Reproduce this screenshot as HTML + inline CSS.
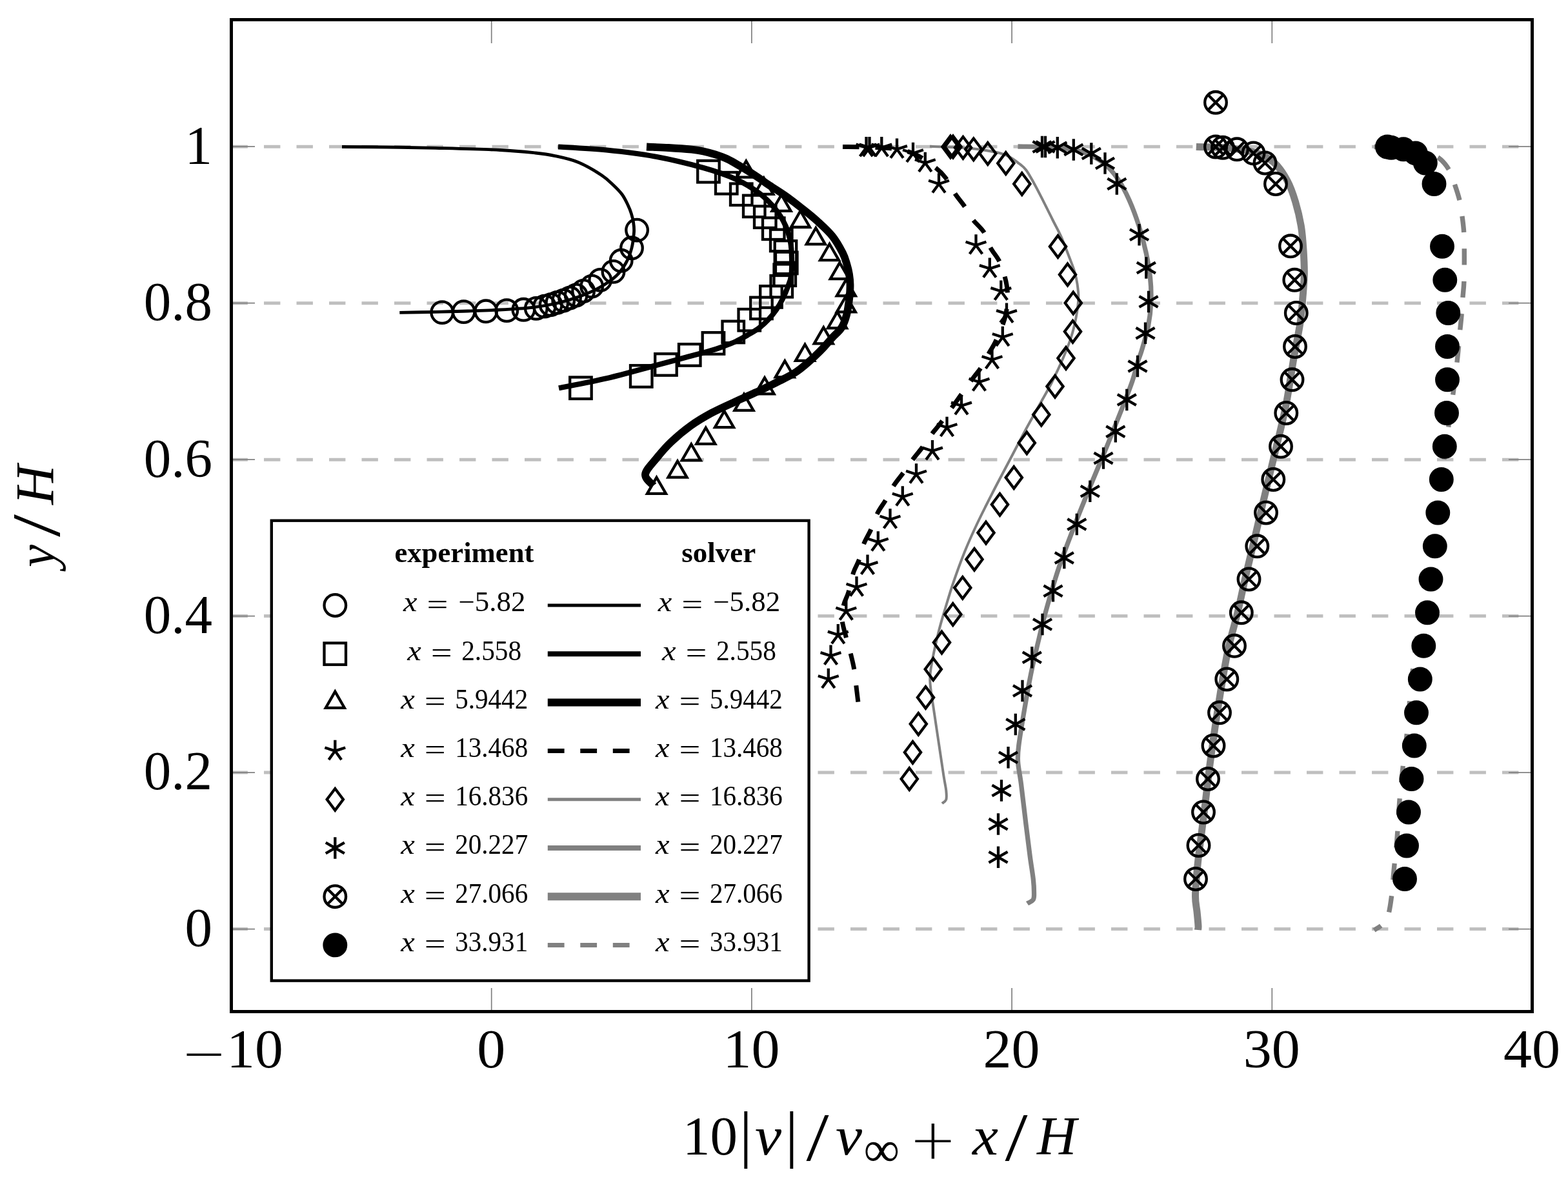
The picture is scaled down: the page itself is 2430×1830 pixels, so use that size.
<!DOCTYPE html>
<html lang="en"><head><meta charset="utf-8"><title>Velocity profiles</title>
<style>html,body{margin:0;padding:0;background:#fff}body{width:2430px;height:1830px;overflow:hidden}svg{display:block}text{font-family:"Liberation Serif",serif;fill:#000}.it{font-style:italic}.b{font-weight:bold}</style>
</head><body>
<svg width="2430" height="1830" viewBox="0 0 2430 1830">
<rect width="2430" height="1830" fill="#fff"/>
<defs>
<circle id="m1" r="16.8" fill="none" stroke="#000" stroke-width="4.3"/>
<rect id="m2" x="-16.8" y="-16.8" width="33.5" height="33.5" fill="none" stroke="#000" stroke-width="4.3"/>
<path id="m3" d="M0,-16.8 L14.5,8.4 L-14.5,8.4 Z" fill="none" stroke="#000" stroke-width="4.3" stroke-linejoin="miter"/>
<path id="m4" d="M0,0L0.00,-16.75M0,0L15.93,-5.18M0,0L9.85,13.55M0,0L-9.85,13.55M0,0L-15.93,-5.18" fill="none" stroke="#000" stroke-width="4.3"/>
<path id="m5" d="M0,-16.8 L12.6,0 L0,16.8 L-12.6,0 Z" fill="none" stroke="#000" stroke-width="4.3"/>
<path id="m6" d="M0,-16.8 L0,16.8M14.51,-8.38 L-14.51,8.38M-14.51,-8.38 L14.51,8.38" fill="none" stroke="#000" stroke-width="4.3"/>
<g id="m7"><circle r="16.8" fill="none" stroke="#000" stroke-width="4.3"/><path d="M-11.84,-11.84 L11.84,11.84 M-11.84,11.84 L11.84,-11.84" fill="none" stroke="#000" stroke-width="4.3"/></g>
<circle id="m8" r="16.8" fill="#000" stroke="#000" stroke-width="4.3"/>
</defs>
<g stroke="#bfbfbf" stroke-width="5" stroke-dasharray="25.4 25.1" fill="none">
<line x1="358.5" y1="1439.6" x2="2374.5" y2="1439.6"/>
<line x1="358.5" y1="1197.1" x2="2374.5" y2="1197.1"/>
<line x1="358.5" y1="954.6" x2="2374.5" y2="954.6"/>
<line x1="358.5" y1="712.2" x2="2374.5" y2="712.2"/>
<line x1="358.5" y1="469.7" x2="2374.5" y2="469.7"/>
<line x1="358.5" y1="227.2" x2="2374.5" y2="227.2"/>
</g>
<g stroke="#808080" stroke-width="1.7" fill="none">
<line x1="761.7" y1="1567.5" x2="761.7" y2="1531"/>
<line x1="761.7" y1="30.5" x2="761.7" y2="67"/>
<line x1="1164.9" y1="1567.5" x2="1164.9" y2="1531"/>
<line x1="1164.9" y1="30.5" x2="1164.9" y2="67"/>
<line x1="1568.1" y1="1567.5" x2="1568.1" y2="1531"/>
<line x1="1568.1" y1="30.5" x2="1568.1" y2="67"/>
<line x1="1971.3" y1="1567.5" x2="1971.3" y2="1531"/>
<line x1="1971.3" y1="30.5" x2="1971.3" y2="67"/>
<line x1="358.5" y1="1439.6" x2="395" y2="1439.6"/>
<line x1="2374.5" y1="1439.6" x2="2338" y2="1439.6"/>
<line x1="358.5" y1="1197.1" x2="395" y2="1197.1"/>
<line x1="2374.5" y1="1197.1" x2="2338" y2="1197.1"/>
<line x1="358.5" y1="954.6" x2="395" y2="954.6"/>
<line x1="2374.5" y1="954.6" x2="2338" y2="954.6"/>
<line x1="358.5" y1="712.2" x2="395" y2="712.2"/>
<line x1="2374.5" y1="712.2" x2="2338" y2="712.2"/>
<line x1="358.5" y1="469.7" x2="395" y2="469.7"/>
<line x1="2374.5" y1="469.7" x2="2338" y2="469.7"/>
<line x1="358.5" y1="227.2" x2="395" y2="227.2"/>
<line x1="2374.5" y1="227.2" x2="2338" y2="227.2"/>
</g>
<rect x="358.5" y="30.5" width="2016" height="1537" fill="none" stroke="#000" stroke-width="5"/>
<g fill="none" stroke-linejoin="round">
<path d="M530,227.5C541.7,227.6 575.8,227.7 600,228C624.2,228.3 645.8,228.6 675,229.3C704.2,230.1 749.2,231.2 775,232.5C800.8,233.8 815.8,235.5 830,237C844.2,238.5 849,239.2 860,241.6C871,244 884.2,246.5 896.2,251.5C908.2,256.5 923.3,265.5 932.3,271.4C941.3,277.3 945.1,281.8 950.4,286.8C955.7,291.8 960.2,296.2 964,301.3C967.8,306.4 970.6,312.5 973,317.5C975.4,322.5 977,326.6 978.4,331.1C979.8,335.6 980.9,339.9 981.6,344.7C982.3,349.5 983,353.3 982.5,360C982,366.7 980.9,377.1 978.8,385C976.7,392.9 974,400.4 970,407.5C966,414.6 961.7,421.2 955,427.5C948.3,433.8 939.2,439.8 930,445C920.8,450.2 911.2,454.6 900,458.8C888.8,463 875,467.1 862.5,470C850,472.9 839.6,474.6 825,476.3C810.4,478 791.7,479.1 775,480C758.3,480.9 741.7,481.4 725,482C708.3,482.6 692.6,482.9 675,483.3C657.4,483.7 628.6,484.1 619.3,484.3" stroke="#000" stroke-width="4.8"/>
<path d="M865,227.5C877.5,228.3 915,230 940,232.5C965,235 990,237.9 1015,242.5C1040,247.1 1069.2,254.2 1090,260C1110.8,265.8 1125.4,270.8 1140,277.5C1154.6,284.2 1167.1,292.1 1177.5,300C1187.9,307.9 1195.8,316.7 1202.5,325C1209.2,333.3 1213.8,341.7 1217.5,350C1221.2,358.3 1223.4,366.7 1225,375C1226.6,383.3 1226.8,391.3 1227,400C1227.2,408.7 1227.2,419.5 1226.2,427C1225.2,434.5 1223.1,438.7 1220.8,444.8C1218.5,450.9 1215.5,457.9 1212.6,463.8C1209.6,469.7 1206.7,474.8 1203.1,480C1199.5,485.2 1195.4,490.2 1190.9,495C1186.4,499.8 1181.4,504.4 1176,508.5C1170.6,512.6 1164.2,516 1158.3,519.4C1152.4,522.8 1147,526 1140.7,528.9C1134.4,531.8 1127.2,534.5 1120.4,537C1113.6,539.5 1110.1,540.9 1100,543.8C1089.9,546.7 1074.2,550.7 1060,554.5C1045.8,558.3 1035,561.2 1015,566.5C995,571.8 964.8,580.5 940,586.3C915.2,592.1 878.3,598.8 866,601.3" stroke="#000" stroke-width="8.2"/>
<path d="M1002,227.5C1007.7,227.8 1024.3,228.3 1036,229C1047.7,229.7 1063,230.8 1072,231.7C1081,232.6 1083.9,233.1 1090,234.4C1096.1,235.7 1102.4,237.4 1108.5,239.4C1114.6,241.4 1120.6,243.4 1126.6,246.2C1132.6,249 1138.7,252.6 1144.7,256.1C1150.7,259.6 1156.7,263.2 1162.7,267C1168.7,270.8 1176.4,276 1180.8,279C1185.2,282 1183.1,281.1 1189,285C1194.9,288.9 1207,296.2 1216,302.5C1225,308.8 1234.6,316.3 1243,323C1251.4,329.7 1258.7,335.3 1266.5,342.5C1274.3,349.7 1283.4,357.8 1290,366C1296.6,374.2 1302.2,384.7 1306,392C1309.8,399.3 1310.8,404.5 1312.5,410C1314.2,415.5 1315.2,419.8 1316,425C1316.8,430.2 1317.4,435.2 1317.5,441C1317.6,446.8 1317.4,452.2 1316.5,460C1315.6,467.8 1314.1,480 1312,488C1309.9,496 1307.7,502.2 1304,508C1300.3,513.8 1294.6,517.9 1290,523C1285.4,528.1 1280.9,533.6 1276.4,538.4C1271.9,543.2 1267.3,547.7 1262.8,552C1258.3,556.3 1253.8,560.4 1249.3,564.2C1244.8,568 1240.2,571.8 1235.7,575C1231.2,578.2 1226.6,580.7 1222.1,583.2C1217.6,585.7 1213,587.8 1208.5,590C1204,592.2 1199.5,594.5 1195,596.7C1190.5,599 1185.9,601.4 1181.4,603.5C1176.9,605.6 1172.3,607.6 1167.8,609.6C1163.3,611.6 1158.8,613.7 1154.3,615.7C1149.8,617.7 1149.3,617.8 1140.7,621.8C1132.1,625.8 1114.3,633.6 1102.5,640C1090.7,646.4 1080.4,652.5 1070,660C1059.6,667.5 1048.8,676.7 1040,685C1031.2,693.3 1024.2,701.7 1017.5,710C1010.8,718.3 1000.8,727.9 1000,735C999.2,742.1 1010.4,749.6 1012.5,752.5" stroke="#000" stroke-width="11.8"/>
<path d="M1306,227.5C1312.5,227.6 1331,227.4 1345,228C1359,228.6 1377.5,229 1390,231C1402.5,233 1410,235.2 1420,240C1430,244.8 1442.5,254.2 1450,260C1457.5,265.8 1460,268.3 1465,275C1470,281.7 1475,292.5 1480,300C1485,307.5 1490.4,313.3 1495,320C1499.6,326.7 1502.5,333.3 1507.5,340C1512.5,346.7 1520.4,352.7 1525,360C1529.6,367.3 1531,376.3 1535,383.8C1539,391.3 1545,397.3 1548.8,405C1552.5,412.7 1555.4,422.1 1557.5,430C1559.6,437.9 1560.9,444.2 1561.3,452.5C1561.7,460.8 1561,472.1 1560,480C1559,487.9 1557.9,491.7 1555,500C1552.1,508.3 1546.2,522.1 1542.5,530C1538.8,537.9 1536.2,540.8 1532.5,547.5C1528.8,554.2 1524.6,562.9 1520,570C1515.4,577.1 1515,576.2 1505,590C1495,603.8 1470,639 1460,652.5C1450,666 1450,664.6 1445,671.3C1440,678 1435,685.8 1430,692.5C1425,699.2 1420,704.6 1415,711.3C1410,718 1405,725.6 1400,732.5C1395,739.4 1389.6,745.4 1385,752.5C1380.4,759.6 1376.7,767.9 1372.5,775C1368.3,782.1 1363.8,787.5 1360,795C1356.2,802.5 1353.5,812.1 1350,820C1346.5,827.9 1341.9,834.6 1338.8,842.5C1335.7,850.4 1334,860 1331.3,867.5C1328.6,875 1325.2,879.2 1322.5,887.5C1319.8,895.8 1317.5,909.2 1315,917.5C1312.5,925.8 1309.2,930.4 1307.5,937.5C1305.8,944.6 1304.4,951.7 1305,960C1305.6,968.3 1309,978.3 1311.3,987.5C1313.6,996.7 1316.7,1006.7 1318.8,1015C1320.9,1023.3 1322.4,1029.3 1323.8,1037.5C1325.2,1045.7 1326,1055.4 1327,1064C1328,1072.6 1329.5,1084.8 1330,1089" stroke="#000" stroke-width="7.0" stroke-dasharray="25.4 25.1" stroke-dashoffset="0"/>
<path d="M1441,226.8C1451.7,227.3 1486,228 1505,230C1524,232 1542.8,235.1 1555,238.8C1567.2,242.6 1572.2,248.4 1578,252.5C1583.8,256.6 1585.8,257.8 1590,263.2C1594.2,268.6 1598.5,276.9 1603,285C1607.5,293.1 1612.4,302.9 1617.1,312.1C1621.8,321.3 1626.5,330.9 1631,340C1635.5,349.1 1639.8,356.3 1644.3,366.4C1648.8,376.4 1654.3,391.4 1657.8,400.3C1661.2,409.2 1663,413.4 1665,420C1667,426.6 1668.5,432.9 1669.5,440C1670.5,447.1 1671.6,453.8 1671.3,462.5C1671,471.2 1669.4,482.5 1667.5,492.5C1665.6,502.5 1663.3,512.1 1660,522.5C1656.7,532.9 1652.5,543.3 1647.5,555C1642.5,566.7 1635.4,581.7 1630,592.5C1624.6,603.3 1621.7,607.9 1615,620C1608.3,632.1 1598.3,649.6 1590,665C1581.7,680.4 1573.3,696.7 1565,712.5C1556.7,728.3 1548.3,743.8 1540,760C1531.7,776.2 1522.5,794.2 1515,810C1507.5,825.8 1501.2,839.6 1495,855C1488.8,870.4 1482.5,887.9 1477.5,902.5C1472.5,917.1 1468.8,930 1465,942.5C1461.2,955 1458.3,964.2 1455,977.5C1451.7,990.8 1447.3,1009.6 1445,1022.5C1442.7,1035.4 1440.9,1041.7 1441.3,1055C1441.7,1068.3 1445.2,1086.2 1447.5,1102.5C1449.8,1118.8 1452.5,1135.8 1455,1152.5C1457.5,1169.2 1460.6,1190.4 1462.5,1202.5C1464.4,1214.6 1465.7,1219 1466.3,1225C1466.9,1231 1467.3,1235.5 1466.3,1238.8C1465.2,1242.1 1461,1244 1460,1245" stroke="#808080" stroke-width="4.0"/>
<path d="M1577.5,227C1588.3,227.3 1625.4,227.2 1642.5,228.8C1659.6,230.4 1668.8,232.4 1680,236.3C1691.2,240.2 1701.2,245.6 1710,252.5C1718.8,259.4 1725.8,267.9 1732.5,277.5C1739.2,287.1 1744.6,297.9 1750,310C1755.4,322.1 1760.6,336.2 1765,350C1769.4,363.8 1773.4,379.2 1776.3,392.5C1779.2,405.8 1781.2,417.5 1782.5,430C1783.8,442.5 1784.3,455 1783.8,467.5C1783.3,480 1781.9,492.5 1779.5,505C1777.1,517.5 1772.2,533.3 1769.5,542.5C1766.8,551.7 1765.9,552.1 1763.5,560C1761.1,567.9 1758.9,578.3 1755,590C1751.1,601.7 1746.7,612.9 1740,630C1733.3,647.1 1723.3,672.1 1715,692.5C1706.7,712.9 1698.3,732.1 1690,752.5C1681.7,772.9 1673.3,793.3 1665,815C1656.7,836.7 1647.5,860 1640,882.5C1632.5,905 1625,932.1 1620,950C1615,967.9 1613.8,974.2 1610,990C1606.2,1005.8 1601.2,1026.7 1597.5,1045C1593.8,1063.3 1590.6,1081.7 1587.5,1100C1584.4,1118.3 1580.5,1141.7 1578.8,1155C1577.1,1168.3 1576.9,1170 1577.5,1180C1578.1,1190 1580.4,1198.8 1582.5,1215C1584.6,1231.2 1587.7,1258.8 1590,1277.5C1592.3,1296.2 1594.4,1313.3 1596.3,1327.5C1598.2,1341.7 1600.3,1353.3 1601.3,1362.5C1602.3,1371.7 1602.5,1377.3 1602.5,1382.5C1602.5,1387.7 1603,1390.9 1601.3,1393.8C1599.5,1396.7 1593.5,1399 1592,1400" stroke="#808080" stroke-width="7.3"/>
<path d="M1853.8,227.5C1861.5,227.8 1884.8,227.5 1900,229C1915.2,230.5 1932.5,232.4 1945,236.3C1957.5,240.2 1966.7,245.2 1975,252.5C1983.3,259.8 1989.6,270 1995,280C2000.4,290 2004,300.8 2007.5,312.5C2011,324.2 2014.2,337.5 2016.3,350C2018.4,362.5 2019.2,375 2020,387.5C2020.8,400 2021.5,412.5 2021.3,425C2021.1,437.5 2019.8,450 2018.8,462.5C2017.8,475 2017.3,484.6 2015,500C2012.7,515.4 2008.8,533.3 2005,555C2001.2,576.7 1997.5,605 1992.5,630C1987.5,655 1980.4,682.1 1975,705C1969.6,727.9 1965.4,744.6 1960,767.5C1954.6,790.4 1947.5,821.2 1942.5,842.5C1937.5,863.8 1934.1,877.2 1930,895C1925.9,912.8 1922.6,929.8 1918,949C1913.4,968.2 1907.6,985.2 1902.5,1010C1897.4,1034.8 1892.1,1068.3 1887.5,1097.5C1882.9,1126.7 1878.3,1160 1875,1185C1871.7,1210 1869.6,1230.4 1867.5,1247.5C1865.4,1264.6 1864.4,1272.5 1862.5,1287.5C1860.6,1302.5 1858,1320.8 1856.3,1337.5C1854.6,1354.2 1852.7,1375 1852.5,1387.5C1852.3,1400 1854.2,1404.6 1855,1412.5C1855.8,1420.4 1856.8,1430.2 1857,1435C1857.2,1439.8 1856.4,1440 1856.3,1441" stroke="#808080" stroke-width="11.0"/>
<path d="M2129.6,227.5C2136.3,227.8 2157.4,227.8 2170,229C2182.6,230.2 2195,232.3 2205,235C2215,237.7 2223.2,240.2 2230,245C2236.8,249.8 2241.8,256.7 2246,263.8C2250.2,270.9 2252.2,279.4 2255,287.5C2257.8,295.6 2260.6,304.2 2262.5,312.5C2264.4,320.8 2265.2,329.2 2266.3,337.5C2267.4,345.8 2268.3,352.1 2268.8,362.5C2269.3,372.9 2269.3,387.5 2269.3,400C2269.3,412.5 2269.2,427.1 2268.8,437.5C2268.4,447.9 2267.4,453.9 2266.8,462.5C2266.2,471.1 2265.7,480.2 2265,488.8C2264.3,497.4 2263.5,503.3 2262.5,513.8C2261.5,524.3 2260.6,537.3 2259,552C2257.4,566.7 2255.2,585.3 2253,602C2250.8,618.7 2248.3,635 2246,652C2243.7,669 2241.5,686.8 2239,704C2236.5,721.2 2233.7,737.3 2231,755C2228.3,772.7 2225.7,792.5 2223,810C2220.3,827.5 2217.7,843.3 2215,860C2212.3,876.7 2209.5,893.3 2207,910C2204.5,926.7 2202.3,943.3 2200,960C2197.7,976.7 2195.2,993.3 2193,1010C2190.8,1026.7 2189.2,1038.3 2187,1060C2184.8,1081.7 2182.2,1118.3 2180,1140C2177.8,1161.7 2175.8,1173.3 2174,1190C2172.2,1206.7 2170.5,1221.7 2169,1240C2167.5,1258.3 2166.5,1281.7 2165,1300C2163.5,1318.3 2161.3,1335.8 2160,1350C2158.7,1364.2 2158.3,1374 2157,1385C2155.7,1396 2153.8,1408.8 2152,1416C2150.2,1423.2 2148.1,1424.8 2146,1428C2143.9,1431.2 2142.2,1432.8 2139.5,1435C2136.8,1437.2 2131.2,1440.2 2129.5,1441.3" stroke="#808080" stroke-width="7.4" stroke-dasharray="25.4 25.1" stroke-dashoffset="0"/>
</g>
<g>
<use href="#m1" x="987.1" y="356.6"/>
<use href="#m1" x="979" y="384.3"/>
<use href="#m1" x="962.7" y="403.8"/>
<use href="#m1" x="950.5" y="420.9"/>
<use href="#m1" x="930.2" y="433.9"/>
<use href="#m1" x="917.2" y="443.7"/>
<use href="#m1" x="904.1" y="451"/>
<use href="#m1" x="892.7" y="457.5"/>
<use href="#m1" x="883" y="461.6"/>
<use href="#m1" x="873.2" y="465.7"/>
<use href="#m1" x="863.4" y="468.9"/>
<use href="#m1" x="853.7" y="472.2"/>
<use href="#m1" x="843.9" y="474.6"/>
<use href="#m1" x="830.9" y="477.9"/>
<use href="#m1" x="811.4" y="479.8"/>
<use href="#m1" x="785.3" y="481.1"/>
<use href="#m1" x="753.1" y="482.3"/>
<use href="#m1" x="718.6" y="483.1"/>
<use href="#m1" x="685.2" y="484.1"/>
</g>
<g>
<use href="#m2" x="1098" y="265.8"/>
<use href="#m2" x="1125.8" y="283.8"/>
<use href="#m2" x="1148.8" y="301.3"/>
<use href="#m2" x="1168.8" y="319.5"/>
<use href="#m2" x="1185.8" y="336.3"/>
<use href="#m2" x="1198.8" y="354.3"/>
<use href="#m2" x="1210.8" y="372.5"/>
<use href="#m2" x="1217.5" y="390"/>
<use href="#m2" x="1218.8" y="407.5"/>
<use href="#m2" x="1216.3" y="426.3"/>
<use href="#m2" x="1211.3" y="443.8"/>
<use href="#m2" x="1195" y="460"/>
<use href="#m2" x="1180" y="477.5"/>
<use href="#m2" x="1161.3" y="495.8"/>
<use href="#m2" x="1136.3" y="514.5"/>
<use href="#m2" x="1105.5" y="532"/>
<use href="#m2" x="1068.8" y="550"/>
<use href="#m2" x="1032" y="565"/>
<use href="#m2" x="993.8" y="583"/>
<use href="#m2" x="900" y="601.3"/>
</g>
<g>
<use href="#m3" x="1156.3" y="266.3"/>
<use href="#m3" x="1183.8" y="292.5"/>
<use href="#m3" x="1211" y="318.5"/>
<use href="#m3" x="1240.5" y="343.6"/>
<use href="#m3" x="1264.3" y="370"/>
<use href="#m3" x="1285.5" y="394.8"/>
<use href="#m3" x="1301.3" y="423.8"/>
<use href="#m3" x="1311.3" y="450"/>
<use href="#m3" x="1311.3" y="475"/>
<use href="#m3" x="1297.5" y="500"/>
<use href="#m3" x="1276.3" y="524"/>
<use href="#m3" x="1247.5" y="550.5"/>
<use href="#m3" x="1216.3" y="576"/>
<use href="#m3" x="1185" y="602"/>
<use href="#m3" x="1153" y="627.5"/>
<use href="#m3" x="1122.5" y="653.8"/>
<use href="#m3" x="1093.8" y="679.5"/>
<use href="#m3" x="1071.3" y="705"/>
<use href="#m3" x="1050" y="731.3"/>
<use href="#m3" x="1017.5" y="756.5"/>
</g>
<g>
<use href="#m4" x="1342.5" y="228.8"/>
<use href="#m4" x="1347.5" y="228.8"/>
<use href="#m4" x="1366.3" y="228.8"/>
<use href="#m4" x="1390" y="231.3"/>
<use href="#m4" x="1415" y="237.5"/>
<use href="#m4" x="1433.8" y="252.5"/>
<use href="#m4" x="1455" y="285"/>
<use href="#m4" x="1512.5" y="380"/>
<use href="#m4" x="1533.8" y="416.3"/>
<use href="#m4" x="1551.3" y="451.3"/>
<use href="#m4" x="1560" y="486.3"/>
<use href="#m4" x="1553.8" y="522.5"/>
<use href="#m4" x="1537.5" y="557.5"/>
<use href="#m4" x="1517.5" y="592"/>
<use href="#m4" x="1490" y="628.8"/>
<use href="#m4" x="1467.5" y="662.5"/>
<use href="#m4" x="1445" y="698.8"/>
<use href="#m4" x="1420" y="735"/>
<use href="#m4" x="1398.8" y="770"/>
<use href="#m4" x="1379.5" y="805"/>
<use href="#m4" x="1360.8" y="840"/>
<use href="#m4" x="1344.5" y="876.3"/>
<use href="#m4" x="1327.5" y="910"/>
<use href="#m4" x="1311.3" y="947"/>
<use href="#m4" x="1298.8" y="983.8"/>
<use href="#m4" x="1287.5" y="1016.3"/>
<use href="#m4" x="1283.8" y="1052.5"/>
</g>
<g>
<use href="#m5" x="1473" y="227.5"/>
<use href="#m5" x="1477" y="227.5"/>
<use href="#m5" x="1492.5" y="228.8"/>
<use href="#m5" x="1508.8" y="231.3"/>
<use href="#m5" x="1530.8" y="238"/>
<use href="#m5" x="1558.8" y="253"/>
<use href="#m5" x="1583.8" y="285"/>
<use href="#m5" x="1639.5" y="382"/>
<use href="#m5" x="1654.5" y="425.5"/>
<use href="#m5" x="1663.3" y="469.5"/>
<use href="#m5" x="1662.5" y="513.8"/>
<use href="#m5" x="1652" y="555"/>
<use href="#m5" x="1635" y="598.8"/>
<use href="#m5" x="1613.8" y="642.5"/>
<use href="#m5" x="1591.3" y="686.3"/>
<use href="#m5" x="1571.3" y="740"/>
<use href="#m5" x="1549.5" y="781.8"/>
<use href="#m5" x="1528" y="825.5"/>
<use href="#m5" x="1510" y="866.8"/>
<use href="#m5" x="1491.8" y="910.8"/>
<use href="#m5" x="1476.8" y="952"/>
<use href="#m5" x="1459.5" y="995.5"/>
<use href="#m5" x="1446.3" y="1037"/>
<use href="#m5" x="1434.5" y="1080.8"/>
<use href="#m5" x="1423.3" y="1121.8"/>
<use href="#m5" x="1414.5" y="1165.8"/>
<use href="#m5" x="1409.3" y="1207"/>
</g>
<g>
<use href="#m6" x="1615" y="227.5"/>
<use href="#m6" x="1620" y="227.5"/>
<use href="#m6" x="1638.8" y="228.8"/>
<use href="#m6" x="1663.8" y="232"/>
<use href="#m6" x="1691.3" y="238"/>
<use href="#m6" x="1712.5" y="253"/>
<use href="#m6" x="1730.8" y="285"/>
<use href="#m6" x="1765.5" y="363.8"/>
<use href="#m6" x="1776.3" y="415"/>
<use href="#m6" x="1780" y="467.5"/>
<use href="#m6" x="1775" y="516.3"/>
<use href="#m6" x="1763" y="567.5"/>
<use href="#m6" x="1746.3" y="619.5"/>
<use href="#m6" x="1728.8" y="668.8"/>
<use href="#m6" x="1710" y="710"/>
<use href="#m6" x="1689.3" y="761.3"/>
<use href="#m6" x="1668.8" y="812.5"/>
<use href="#m6" x="1649.3" y="864.5"/>
<use href="#m6" x="1632" y="915.8"/>
<use href="#m6" x="1615.5" y="967.5"/>
<use href="#m6" x="1599.3" y="1018.8"/>
<use href="#m6" x="1584.5" y="1070.5"/>
<use href="#m6" x="1573.8" y="1122.5"/>
<use href="#m6" x="1562.5" y="1173.8"/>
<use href="#m6" x="1552" y="1225"/>
<use href="#m6" x="1547" y="1277"/>
<use href="#m6" x="1547" y="1328.3"/>
</g>
<g>
<use href="#m7" x="1884" y="158.8"/>
<use href="#m7" x="1884" y="227.5"/>
<use href="#m7" x="1895" y="228.8"/>
<use href="#m7" x="1917" y="231.3"/>
<use href="#m7" x="1942.5" y="237.5"/>
<use href="#m7" x="1960.5" y="252.5"/>
<use href="#m7" x="1977" y="285"/>
<use href="#m7" x="2000" y="381.3"/>
<use href="#m7" x="2006.3" y="433.8"/>
<use href="#m7" x="2008.8" y="485"/>
<use href="#m7" x="2007" y="537"/>
<use href="#m7" x="2002.5" y="588.3"/>
<use href="#m7" x="1993.3" y="640"/>
<use href="#m7" x="1985" y="691.8"/>
<use href="#m7" x="1973.3" y="743"/>
<use href="#m7" x="1962" y="794.5"/>
<use href="#m7" x="1948.3" y="846.3"/>
<use href="#m7" x="1935.5" y="897.5"/>
<use href="#m7" x="1923.8" y="949.3"/>
<use href="#m7" x="1913" y="1000.8"/>
<use href="#m7" x="1901.3" y="1052.5"/>
<use href="#m7" x="1890" y="1104.3"/>
<use href="#m7" x="1880.5" y="1155.5"/>
<use href="#m7" x="1872" y="1207"/>
<use href="#m7" x="1865" y="1258.5"/>
<use href="#m7" x="1857.5" y="1310"/>
<use href="#m7" x="1853" y="1362"/>
</g>
<g>
<use href="#m8" x="2150" y="227.5"/>
<use href="#m8" x="2156" y="228.8"/>
<use href="#m8" x="2175" y="231.3"/>
<use href="#m8" x="2193.8" y="237.5"/>
<use href="#m8" x="2208.8" y="252.5"/>
<use href="#m8" x="2222.5" y="285"/>
<use href="#m8" x="2235" y="381.8"/>
<use href="#m8" x="2239.3" y="433.8"/>
<use href="#m8" x="2244.3" y="485"/>
<use href="#m8" x="2243" y="537"/>
<use href="#m8" x="2243" y="588.3"/>
<use href="#m8" x="2242" y="640"/>
<use href="#m8" x="2238.8" y="691.8"/>
<use href="#m8" x="2233.8" y="743"/>
<use href="#m8" x="2228.3" y="794.5"/>
<use href="#m8" x="2223.8" y="846.3"/>
<use href="#m8" x="2217.5" y="897.5"/>
<use href="#m8" x="2212" y="949.3"/>
<use href="#m8" x="2206.3" y="1000.8"/>
<use href="#m8" x="2200.8" y="1052.5"/>
<use href="#m8" x="2195" y="1104.3"/>
<use href="#m8" x="2191.8" y="1155.5"/>
<use href="#m8" x="2187.5" y="1207"/>
<use href="#m8" x="2183" y="1258.5"/>
<use href="#m8" x="2180" y="1310.5"/>
<use href="#m8" x="2177" y="1362"/>
</g>
<rect x="420.8" y="806.7" width="832.8" height="712.9" fill="#fff" stroke="#000" stroke-width="4.4"/>
<text class="b" x="719.4" y="870.5" font-size="44" text-anchor="middle" textLength="216" lengthAdjust="spacingAndGlyphs">experiment</text>
<text class="b" x="1113.7" y="870.5" font-size="44" text-anchor="middle" textLength="115" lengthAdjust="spacingAndGlyphs">solver</text>
<use href="#m1" x="519.3" y="938"/>
<line x1="848.8" y1="938" x2="993" y2="938" stroke="#000" stroke-width="5.1"/>
<text x="625" y="947.3" font-size="43.5"><tspan class="it" x="625" textLength="21.5" lengthAdjust="spacingAndGlyphs">x</tspan><tspan x="661.5" dy="3.2" textLength="33" lengthAdjust="spacingAndGlyphs">=</tspan><tspan x="710.5" dy="-3.2" textLength="104" lengthAdjust="spacingAndGlyphs">−5.82</tspan></text>
<text x="1019.7" y="947.3" font-size="43.5"><tspan class="it" x="1019.7" textLength="21.5" lengthAdjust="spacingAndGlyphs">x</tspan><tspan x="1056.2" dy="3.2" textLength="33" lengthAdjust="spacingAndGlyphs">=</tspan><tspan x="1105.2" dy="-3.2" textLength="104" lengthAdjust="spacingAndGlyphs">−5.82</tspan></text>
<use href="#m2" x="519.3" y="1013.2"/>
<line x1="848.8" y1="1013.2" x2="993" y2="1013.2" stroke="#000" stroke-width="8.1"/>
<text x="631.2" y="1022.5" font-size="43.5"><tspan class="it" x="631.2" textLength="21.5" lengthAdjust="spacingAndGlyphs">x</tspan><tspan x="667.7" dy="3.2" textLength="33" lengthAdjust="spacingAndGlyphs">=</tspan><tspan x="715.2" dy="-3.2" textLength="93" lengthAdjust="spacingAndGlyphs">2.558</tspan></text>
<text x="1025.9" y="1022.5" font-size="43.5"><tspan class="it" x="1025.9" textLength="21.5" lengthAdjust="spacingAndGlyphs">x</tspan><tspan x="1062.4" dy="3.2" textLength="33" lengthAdjust="spacingAndGlyphs">=</tspan><tspan x="1109.9" dy="-3.2" textLength="93" lengthAdjust="spacingAndGlyphs">2.558</tspan></text>
<use href="#m3" x="519.3" y="1088.4"/>
<line x1="848.8" y1="1088.4" x2="993" y2="1088.4" stroke="#000" stroke-width="12"/>
<text x="621.2" y="1097.7" font-size="43.5"><tspan class="it" x="621.2" textLength="21.5" lengthAdjust="spacingAndGlyphs">x</tspan><tspan x="657.7" dy="3.2" textLength="33" lengthAdjust="spacingAndGlyphs">=</tspan><tspan x="705.2" dy="-3.2" textLength="113" lengthAdjust="spacingAndGlyphs">5.9442</tspan></text>
<text x="1015.9" y="1097.7" font-size="43.5"><tspan class="it" x="1015.9" textLength="21.5" lengthAdjust="spacingAndGlyphs">x</tspan><tspan x="1052.4" dy="3.2" textLength="33" lengthAdjust="spacingAndGlyphs">=</tspan><tspan x="1099.9" dy="-3.2" textLength="113" lengthAdjust="spacingAndGlyphs">5.9442</tspan></text>
<use href="#m4" x="519.3" y="1163.6"/>
<line x1="848.8" y1="1163.6" x2="993" y2="1163.6" stroke="#000" stroke-width="7" stroke-dasharray="25.8 24.7"/>
<text x="621.2" y="1172.9" font-size="43.5"><tspan class="it" x="621.2" textLength="21.5" lengthAdjust="spacingAndGlyphs">x</tspan><tspan x="657.7" dy="3.2" textLength="33" lengthAdjust="spacingAndGlyphs">=</tspan><tspan x="705.2" dy="-3.2" textLength="113" lengthAdjust="spacingAndGlyphs">13.468</tspan></text>
<text x="1015.9" y="1172.9" font-size="43.5"><tspan class="it" x="1015.9" textLength="21.5" lengthAdjust="spacingAndGlyphs">x</tspan><tspan x="1052.4" dy="3.2" textLength="33" lengthAdjust="spacingAndGlyphs">=</tspan><tspan x="1099.9" dy="-3.2" textLength="113" lengthAdjust="spacingAndGlyphs">13.468</tspan></text>
<use href="#m5" x="519.3" y="1238.8"/>
<line x1="848.8" y1="1238.8" x2="993" y2="1238.8" stroke="#808080" stroke-width="5.1"/>
<text x="621.2" y="1248.1" font-size="43.5"><tspan class="it" x="621.2" textLength="21.5" lengthAdjust="spacingAndGlyphs">x</tspan><tspan x="657.7" dy="3.2" textLength="33" lengthAdjust="spacingAndGlyphs">=</tspan><tspan x="705.2" dy="-3.2" textLength="113" lengthAdjust="spacingAndGlyphs">16.836</tspan></text>
<text x="1015.9" y="1248.1" font-size="43.5"><tspan class="it" x="1015.9" textLength="21.5" lengthAdjust="spacingAndGlyphs">x</tspan><tspan x="1052.4" dy="3.2" textLength="33" lengthAdjust="spacingAndGlyphs">=</tspan><tspan x="1099.9" dy="-3.2" textLength="113" lengthAdjust="spacingAndGlyphs">16.836</tspan></text>
<use href="#m6" x="519.3" y="1314"/>
<line x1="848.8" y1="1314" x2="993" y2="1314" stroke="#808080" stroke-width="8.1"/>
<text x="621.2" y="1323.3" font-size="43.5"><tspan class="it" x="621.2" textLength="21.5" lengthAdjust="spacingAndGlyphs">x</tspan><tspan x="657.7" dy="3.2" textLength="33" lengthAdjust="spacingAndGlyphs">=</tspan><tspan x="705.2" dy="-3.2" textLength="113" lengthAdjust="spacingAndGlyphs">20.227</tspan></text>
<text x="1015.9" y="1323.3" font-size="43.5"><tspan class="it" x="1015.9" textLength="21.5" lengthAdjust="spacingAndGlyphs">x</tspan><tspan x="1052.4" dy="3.2" textLength="33" lengthAdjust="spacingAndGlyphs">=</tspan><tspan x="1099.9" dy="-3.2" textLength="113" lengthAdjust="spacingAndGlyphs">20.227</tspan></text>
<use href="#m7" x="519.3" y="1389.2"/>
<line x1="848.8" y1="1389.2" x2="993" y2="1389.2" stroke="#808080" stroke-width="12"/>
<text x="621.2" y="1398.5" font-size="43.5"><tspan class="it" x="621.2" textLength="21.5" lengthAdjust="spacingAndGlyphs">x</tspan><tspan x="657.7" dy="3.2" textLength="33" lengthAdjust="spacingAndGlyphs">=</tspan><tspan x="705.2" dy="-3.2" textLength="113" lengthAdjust="spacingAndGlyphs">27.066</tspan></text>
<text x="1015.9" y="1398.5" font-size="43.5"><tspan class="it" x="1015.9" textLength="21.5" lengthAdjust="spacingAndGlyphs">x</tspan><tspan x="1052.4" dy="3.2" textLength="33" lengthAdjust="spacingAndGlyphs">=</tspan><tspan x="1099.9" dy="-3.2" textLength="113" lengthAdjust="spacingAndGlyphs">27.066</tspan></text>
<use href="#m8" x="519.3" y="1464.4"/>
<line x1="848.8" y1="1464.4" x2="993" y2="1464.4" stroke="#808080" stroke-width="7" stroke-dasharray="25.8 24.7"/>
<text x="621.2" y="1473.7" font-size="43.5"><tspan class="it" x="621.2" textLength="21.5" lengthAdjust="spacingAndGlyphs">x</tspan><tspan x="657.7" dy="3.2" textLength="33" lengthAdjust="spacingAndGlyphs">=</tspan><tspan x="705.2" dy="-3.2" textLength="113" lengthAdjust="spacingAndGlyphs">33.931</tspan></text>
<text x="1015.9" y="1473.7" font-size="43.5"><tspan class="it" x="1015.9" textLength="21.5" lengthAdjust="spacingAndGlyphs">x</tspan><tspan x="1052.4" dy="3.2" textLength="33" lengthAdjust="spacingAndGlyphs">=</tspan><tspan x="1099.9" dy="-3.2" textLength="113" lengthAdjust="spacingAndGlyphs">33.931</tspan></text>
<text x="280.6" y="1660.6" font-size="85" style="font-family:'DejaVu Sans',sans-serif;font-weight:200">−</text>
<text x="395" y="1654.3" font-size="85" text-anchor="middle" textLength="87.5" lengthAdjust="spacingAndGlyphs">10</text>
<text x="761.2" y="1654.3" font-size="85" text-anchor="middle" textLength="44" lengthAdjust="spacingAndGlyphs">0</text>
<text x="1164.4" y="1654.3" font-size="85" text-anchor="middle" textLength="88" lengthAdjust="spacingAndGlyphs">10</text>
<text x="1567.6" y="1654.3" font-size="85" text-anchor="middle" textLength="88" lengthAdjust="spacingAndGlyphs">20</text>
<text x="1970.8" y="1654.3" font-size="85" text-anchor="middle" textLength="88" lengthAdjust="spacingAndGlyphs">30</text>
<text x="2374" y="1654.3" font-size="85" text-anchor="middle" textLength="88" lengthAdjust="spacingAndGlyphs">40</text>
<text x="329" y="1465.9" font-size="85" text-anchor="end">0</text>
<text x="329" y="1223.4" font-size="85" text-anchor="end">0.2</text>
<text x="329" y="980.9" font-size="85" text-anchor="end">0.4</text>
<text x="329" y="738.5" font-size="85" text-anchor="end">0.6</text>
<text x="329" y="496" font-size="85" text-anchor="end">0.8</text>
<text x="329" y="253.5" font-size="85" text-anchor="end">1</text>
<text x="1058" y="1789" font-size="85">10</text>
<text x="1146" y="1790" font-size="98">|</text>
<text class="it" x="1170" y="1789" font-size="85" textLength="41" lengthAdjust="spacingAndGlyphs">v</text>
<text x="1217" y="1790" font-size="98">|</text>
<text x="1249.5" y="1797.5" font-size="106" textLength="35" lengthAdjust="spacingAndGlyphs">/</text>
<text class="it" x="1295" y="1789" font-size="85" textLength="41" lengthAdjust="spacingAndGlyphs">v</text>
<text x="1338.5" y="1807.3" font-size="78">∞</text>
<text x="1409" y="1796" font-size="88" style="font-family:'DejaVu Sans',sans-serif;font-weight:200">+</text>
<text class="it" x="1507" y="1789" font-size="85" textLength="40" lengthAdjust="spacingAndGlyphs">x</text>
<text x="1557.5" y="1797.5" font-size="106" textLength="35" lengthAdjust="spacingAndGlyphs">/</text>
<text class="it" x="1607" y="1789" font-size="85">H</text>
<g transform="translate(83,884) rotate(-90)">
<text class="it" x="5" y="1" font-size="82" textLength="35" lengthAdjust="spacingAndGlyphs">y</text>
<text x="52" y="8.5" font-size="106" textLength="35" lengthAdjust="spacingAndGlyphs">/</text>
<text class="it" x="102" y="0" font-size="85">H</text>
</g>
</svg>
</body></html>
